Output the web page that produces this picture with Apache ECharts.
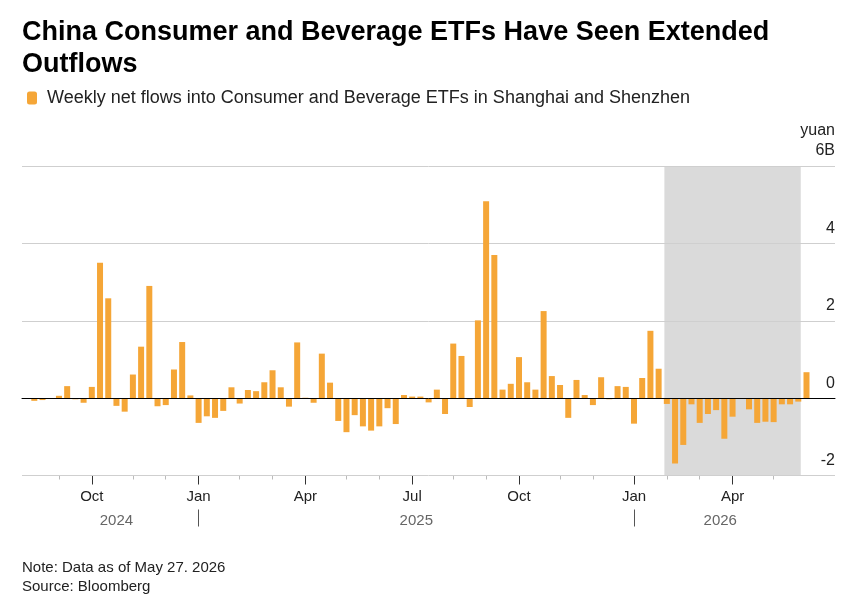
<!DOCTYPE html>
<html>
<head>
<meta charset="utf-8" />
<title>China Consumer and Beverage ETFs</title>
<script src="https://cdn.jsdelivr.net/npm/echarts@6/dist/echarts.min.js"></script>
<style>
  html, body { margin: 0; padding: 0; background: #fff; }
  #main { width: 860px; height: 612px; }
</style>
</head>
<body>
<div id="main"></div>
<script>
// weekly net flows, billion yuan
var flows = [
  -0.07, -0.05, -0.02, 0.06, 0.31, -0.03, -0.12, 0.29, 3.50, 2.58,
  -0.20, -0.35, 0.61, 1.33, 2.90, -0.21, -0.18, 0.74, 1.45, 0.07,
  -0.64, -0.47, -0.51, -0.33, 0.28, -0.14, 0.21, 0.18, 0.41, 0.72,
  0.28, -0.22, 1.44, 0.01, -0.12, 1.15, 0.40, -0.59, -0.88, -0.44,
  -0.73, -0.84, -0.73, -0.26, -0.67, 0.08, 0.04, 0.04, -0.11, 0.22,
  -0.41, 1.41, 1.09, -0.23, 2.01, 5.09, 3.70, 0.22, 0.37, 1.06,
  0.41, 0.22, 2.25, 0.57, 0.34, -0.51, 0.47, 0.08, -0.18, 0.54,
  -0.03, 0.31, 0.29, -0.66, 0.52, 1.74, 0.76, -0.15, -1.69, -1.21,
  -0.16, -0.64, -0.41, -0.31, -1.05, -0.48, -0.02, -0.29, -0.64, -0.61,
  -0.62, -0.16, -0.16, -0.09, 0.67
];

// first weekly bar of each month (bar index, label)
var majorMonths = [[7, 'Oct'], [20, 'Jan'], [33, 'Apr'], [46, 'Jul'], [59, 'Oct'], [73, 'Jan'], [85, 'Apr']];
var minorMonths = [3, 12, 16, 25, 29, 38, 42, 51, 55, 64, 68, 77, 81, 90];
// year labels sit in the middle of each year's span, dividers at January
var years = [[10, '2024'], [46.5, '2025'], [83.5, '2026']];
var yearBreaks = [20, 73];
// shaded period, in bar positions
var shade = [76.7, 93.3];

var yTicks = [-2, 0, 2, 4, 6];

var weeks = flows.map(function(v, i) { return 'w' + i; });
var majorIdx = majorMonths.map(function(m) { return m[0]; });
var labelOf = {};
majorMonths.forEach(function(m) { labelOf[m[0]] = m[1]; });
var yearOf = {};
years.forEach(function(y) { yearOf[y[0]] = y[1]; });

var font = "'Liberation Sans', Arial, sans-serif";

var myChart = echarts.init(document.getElementById('main'));
myChart.setOption({
  animation: false,
  textStyle: { fontFamily: font },
  title: [{
    text: 'China Consumer and Beverage ETFs Have Seen Extended\nOutflows',
    left: 17,
    top: 12,
    textStyle: {
      fontFamily: font,
      fontSize: 27,
      fontWeight: 'bold',
      lineHeight: 32,
      color: '#000'
    }
  }, {
    text: 'Note: Data as of May 27. 2026\nSource: Bloomberg',
    left: 17,
    top: 553,
    textStyle: { fontFamily: font, fontSize: 15, fontWeight: 'normal', lineHeight: 19, color: '#222' }
  }],
  legend: {
    left: 22,
    top: 84,
    icon: 'roundRect',
    itemWidth: 10,
    itemHeight: 13,
    selectedMode: false,
    textStyle: { fontFamily: font, fontSize: 18, color: '#222', padding: [0, 0, 0, 5] },
    data: ['Weekly net flows into Consumer and Beverage ETFs in Shanghai and Shenzhen']
  },
  grid: [
    // grid lines, value labels and zero line run the full width
    { left: 22, right: 25, top: 166, bottom: 136.5, outerBoundsMode: 'none' },
    // bars
    { left: 30.2, right: 49.4, top: 166, bottom: 136.5, outerBoundsMode: 'none' }
  ],
  xAxis: [{
    gridIndex: 0, type: 'value', min: 0, max: 1, z: 5,
    axisLine: { show: true, onZero: true, lineStyle: { color: '#000', width: 1 } },
    axisTick: { show: false }, axisLabel: { show: false }, splitLine: { show: false }
  }, {
    gridIndex: 1, type: 'category', data: weeks, position: 'bottom',
    axisLine: { show: false, onZero: false },
    axisTick: {
      show: true, alignWithLabel: true, length: 9,
      interval: function(i) { return majorIdx.indexOf(i) >= 0; },
      lineStyle: { color: '#333', width: 1 }
    },
    axisLabel: {
      interval: function(i) { return majorIdx.indexOf(i) >= 0; },
      formatter: function(v, i) { return labelOf[i] || ''; },
      margin: 14, fontSize: 15, color: '#222', fontFamily: font
    },
    splitLine: { show: false }
  }, {
    gridIndex: 1, type: 'category', data: weeks, position: 'bottom',
    axisLine: { show: false, onZero: false },
    axisTick: {
      show: true, alignWithLabel: true, length: 4,
      interval: function(i) { return minorMonths.indexOf(i) >= 0; },
      lineStyle: { color: '#bbb', width: 1 }
    },
    axisLabel: { show: false },
    splitLine: { show: false }
  }, {
    gridIndex: 1, type: 'value', min: -0.5, max: flows.length - 0.5, position: 'bottom', offset: 34,
    axisLine: { show: false, onZero: false },
    axisTick: { show: true, customValues: yearBreaks, length: 17, lineStyle: { color: '#555', width: 1 } },
    axisLabel: {
      customValues: years.map(function(y) { return y[0]; }),
      formatter: function(v) { return yearOf[v] || ''; },
      margin: 4, fontSize: 15, color: '#666', fontFamily: font
    },
    splitLine: { show: false }
  }],
  yAxis: [{
    gridIndex: 0, type: 'value', min: -2, max: 6, interval: 2, position: 'right', z: 1,
    axisLine: { show: false }, axisTick: { show: false },
    axisLabel: {
      inside: true, margin: 0, align: 'right', verticalAlign: 'bottom',
      padding: [0, 0, 5, 0], fontSize: 16, lineHeight: 20, color: '#222', fontFamily: font,
      formatter: function(v) { return v === 6 ? 'yuan\n6B' : String(v); }
    },
    splitLine: { show: true, lineStyle: { color: '#cfcfcf', width: 1 } }
  }, {
    gridIndex: 1, type: 'value', min: -2, max: 6, interval: 2, show: false
  }],
  series: [{
    name: 'shade',
    type: 'line',
    xAxisIndex: 3,
    yAxisIndex: 1,
    data: [],
    z: 0,
    silent: true,
    markArea: {
      silent: true,
      z: 0,
      itemStyle: { color: '#dadada' },
      data: [[{ xAxis: shade[0], yAxis: yTicks[0] }, { xAxis: shade[1], yAxis: yTicks[yTicks.length - 1] }]]
    }
  }, {
    name: 'Weekly net flows into Consumer and Beverage ETFs in Shanghai and Shenzhen',
    type: 'bar',
    xAxisIndex: 1,
    yAxisIndex: 1,
    data: flows,
    barWidth: 6,
    z: 3,
    itemStyle: { color: '#f5a637' }
  }]
});

window.onresize = function() {
  myChart.resize();
};
</script>
</body>
</html>
